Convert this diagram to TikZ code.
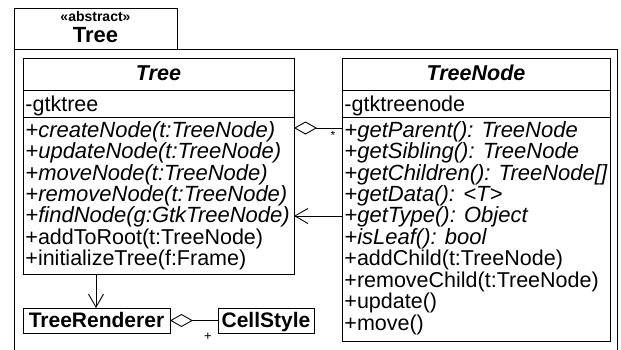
\documentclass[tikz,border=0pt]{standalone}
\usepackage{fontspec}
\setmainfont{Liberation Sans}
\usetikzlibrary{arrows.meta}
\begin{document}
\begin{tikzpicture}[x=1pt,y=-1pt,line width=0.9pt,
  box/.style={draw,rectangle,inner sep=0pt,outer sep=0pt},
  txt/.style={anchor=base west,inner sep=0pt,font=\fontsize{21.5}{21.5}\selectfont},
  itxt/.style={anchor=base west,inner sep=0pt,font=\fontsize{22}{22}\selectfont\itshape},
  title/.style={anchor=base,inner sep=0pt,font=\fontsize{21.5}{21.5}\selectfont\bfseries\itshape},
  btxt/.style={anchor=base,inner sep=0pt,font=\fontsize{21}{21}\selectfont\bfseries},
  aggr/.style={{Diamond[open,length=23pt,width=13pt]}-},
  dep/.style={-{Straight Barb[length=13pt,width=15pt]}},
  mult/.style={inner sep=0pt,anchor=base,font=\fontsize{12}{12}\selectfont}]
\useasboundingbox (0,0) rectangle (621,349);
\clip (0,0) rectangle (621,349);

% package frame with its tab
\node[box,minimum width=163pt,minimum height=41pt] (pkg) at (95.5,28.5) {};
\node[btxt,font=\fontsize{14}{14}\selectfont\bfseries] (stereo) at (95.5,21) {«abstract»};
\node[btxt,font=\fontsize{22}{22}\selectfont\bfseries] (pkgname) at (95.5,42) {Tree};
\draw (pkg.south west) -- (14,360);
\draw (pkg.south west) -- (617,49) -- (617,360);

% class boxes
\node[box,minimum width=271pt,minimum height=216pt] (tree) at (158.5,166) {};
\node[box,minimum width=268pt,minimum height=283pt] (treenode) at (476,199.5) {};
\node[box,minimum width=147pt,minimum height=25pt] (rend) at (96.5,320.5) {};
\node[box,minimum width=96pt,minimum height=25pt] (cell) at (266,320.5) {};

% compartment separators
\coordinate (sepA) at (0,90);
\coordinate (sepB) at (0,117);
\draw (tree.west |- sepA) -- (tree.east |- sepA);
\draw (tree.west |- sepB) -- (tree.east |- sepB);
\draw (treenode.west |- sepA) -- (treenode.east |- sepA);
\draw (treenode.west |- sepB) -- (treenode.east |- sepB);

% Tree
\node[title] (treeT) at (158.5,80) {Tree};
\node[txt] (treeA) at (25,111) {-gtktree};
\node[itxt] (t1) at (25,137) {+createNode(t:TreeNode)};
\node[itxt] (t2) at (25,158.5) {+updateNode(t:TreeNode)};
\node[itxt] (t3) at (25,180) {+moveNode(t:TreeNode)};
\node[itxt] (t4) at (25,201.4) {+removeNode(t:TreeNode)};
\node[itxt] (t5) at (25,222.8) {+findNode(g:GtkTreeNode)};
\node[txt] (t6) at (25,244.3) {+addToRoot(t:TreeNode)};
\node[txt] (t7) at (25,265.7) {+initializeTree(f:Frame)};

% TreeNode
\node[title] (tnT) at (476,80) {TreeNode};
\node[txt] (tnA) at (344,111) {-gtktreenode};
\node[itxt] (n1) at (344,137) {+getParent(): TreeNode};
\node[itxt] (n2) at (344,158.5) {+getSibling(): TreeNode};
\node[itxt] (n3) at (344,180) {+getChildren(): TreeNode[]};
\node[itxt] (n4) at (344,201.4) {+getData(): <T>};
\node[itxt] (n5) at (344,222.8) {+getType(): Object};
\node[itxt] (n6) at (344,244.3) {+isLeaf(): bool};
\node[txt] (n7) at (344,265.7) {+addChild(t:TreeNode)};
\node[txt] (n8) at (344,287.2) {+removeChild(t:TreeNode)};
\node[txt] (n9) at (344,308.6) {+update()};
\node[txt] (n10) at (344,330) {+move()};

% small classes
\node[btxt] (rendT) at (rend.center |- 0,327.5) {TreeRenderer};
\node[btxt] (cellT) at (cell.center |- 0,327.5) {CellStyle};

% connectors
\coordinate (aggY) at (0,128);
\coordinate (depY) at (0,216);
\coordinate (depX) at (96,0);
\draw[aggr] (tree.east |- aggY) -- (treenode.west |- aggY);
\node[mult] (star) at (333,139) {*};
\draw[dep] (treenode.west |- depY) -- (tree.east |- depY);
\draw[dep] (tree.south -| depX) -- (rend.north -| depX);
\draw[aggr] (rend.east) -- (cell.west);
\node[mult,font=\fontsize{13}{13}\selectfont] (plus) at (208,340) {+};
\end{tikzpicture}
\end{document}
